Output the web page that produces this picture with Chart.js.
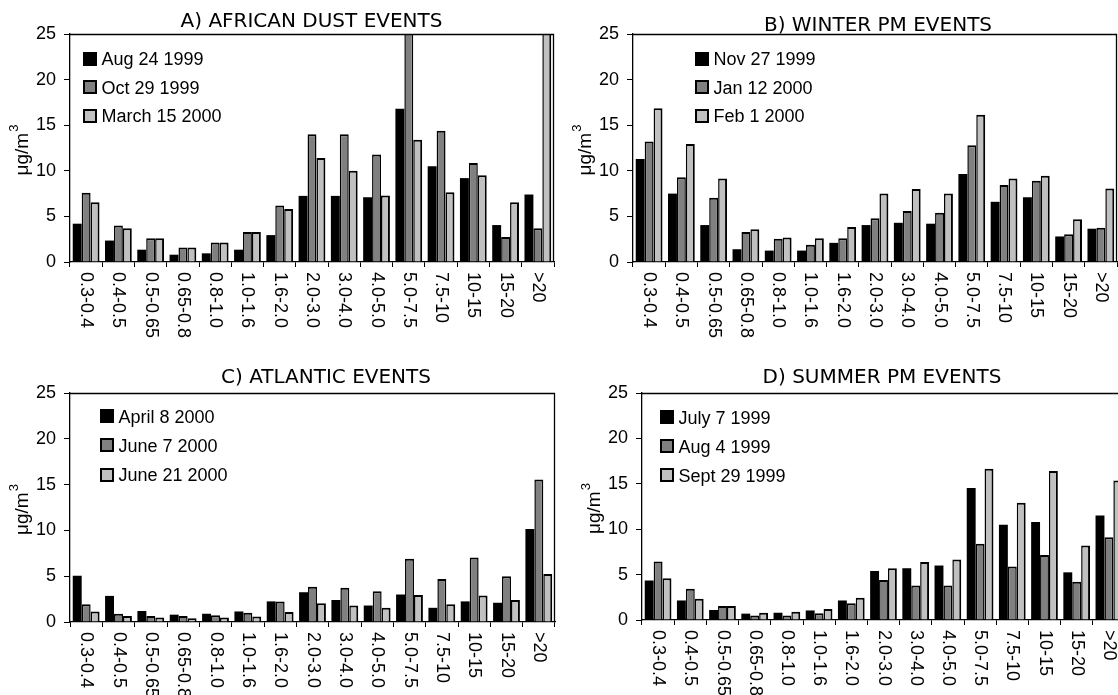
<!DOCTYPE html>
<html><head><meta charset="utf-8">
<script src="https://cdn.jsdelivr.net/npm/chart.js@4/dist/chart.umd.min.js"></script>
<style>
html,body{margin:0;padding:0;background:#fff;overflow:hidden;width:1118px;height:695px;position:relative;}
canvas{position:absolute;}
</style></head><body>
<canvas id="cA" width="560" height="345" style="left:0;top:0"></canvas>
<canvas id="cB" width="580" height="345" style="left:560px;top:0"></canvas>
<canvas id="cC" width="560" height="350" style="left:0;top:345px"></canvas>
<canvas id="cD" width="580" height="350" style="left:560px;top:345px"></canvas>
<script>
// ---- data ----
const categories = ['0.3-0.4','0.4-0.5','0.5-0.65','0.65-0.8','0.8-1.0','1.0-1.6','1.6-2.0','2.0-3.0','3.0-4.0','4.0-5.0','5.0-7.5','7.5-10','10-15','15-20','>20'];
const yTicks = [0, 5, 10, 15, 20, 25];
const panelTitles = ['A) AFRICAN DUST EVENTS', 'B) WINTER PM EVENTS', 'C) ATLANTIC EVENTS', 'D) SUMMER PM EVENTS'];
const yTitle = 'μg/m';
const yTitleSup = '3';

const dustDates = ['Aug 24 1999', 'Oct 29 1999', 'March 15 2000'];
const dustAug24_1999 = [4.2, 2.35, 1.35, 0.8, 0.95, 1.35, 2.95, 7.25, 7.25, 7.1, 16.8, 10.5, 9.2, 4.05, 7.4];
const dustOct29_1999 = [7.6, 4.0, 2.6, 1.6, 2.15, 3.3, 6.2, 14.0, 14.0, 11.8, 26, 14.4, 10.85, 2.75, 3.7];
const dustMar15_2000 = [6.55, 3.7, 2.6, 1.6, 2.15, 3.3, 5.8, 11.4, 10.0, 7.3, 13.4, 7.65, 9.5, 6.55, 26];

const winterDates = ['Nov 27 1999', 'Jan 12 2000', 'Feb 1 2000'];
const winterNov27_1999 = [11.3, 7.5, 4.05, 1.4, 1.25, 1.25, 2.1, 4.05, 4.3, 4.2, 9.65, 6.6, 7.1, 2.8, 3.65];
const winterJan12_2000 = [13.2, 9.3, 7.05, 3.3, 2.55, 1.9, 2.6, 4.8, 5.6, 5.4, 12.8, 8.45, 8.9, 3.05, 3.75];
const winterFeb1_2000 = [16.85, 12.95, 9.15, 3.6, 2.7, 2.6, 3.85, 7.5, 8.0, 7.5, 16.15, 9.15, 9.45, 4.7, 8.05];

const atlanticDates = ['April 8 2000', 'June 7 2000', 'June 21 2000'];
const atlApr8_2000 = [5.05, 2.85, 1.2, 0.8, 0.9, 1.15, 2.25, 3.25, 2.4, 1.8, 3.0, 1.55, 2.25, 2.1, 10.15];
const atlJun7_2000 = [1.95, 0.9, 0.65, 0.65, 0.75, 1.0, 2.25, 3.85, 3.75, 3.35, 6.9, 4.7, 7.05, 5.0, 15.55];
const atlJun21_2000 = [1.15, 0.65, 0.5, 0.4, 0.5, 0.6, 1.1, 2.05, 1.8, 1.55, 2.95, 1.95, 2.9, 2.4, 5.25];

const summerDates = ['July 7 1999', 'Aug 4 1999', 'Sept 29 1999'];
const sumJul7_1999 = [4.35, 2.15, 1.1, 0.7, 0.8, 1.05, 2.15, 5.4, 5.7, 6.0, 14.55, 10.5, 10.8, 5.25, 11.5];
const sumAug4_1999 = [6.45, 3.45, 1.55, 0.5, 0.5, 0.75, 1.85, 4.4, 3.8, 3.8, 8.4, 5.9, 7.15, 4.2, 9.1];
const sumSep29_1999 = [4.6, 2.35, 1.55, 0.8, 0.9, 1.2, 2.45, 5.7, 6.4, 6.65, 16.65, 12.9, 16.4, 8.2, 15.35];

// ---- styling ----
const FONT = '"Liberation Sans", Arial, sans-serif';
const TITLE_FONT = '"DejaVu Sans", Verdana, sans-serif';
const fills = ['#000000', '#808080', '#c0c0c0'];
const borders = [0, {top: 2, left: 1.5, right: 1.5, bottom: 0}, {top: 2, left: 1.5, right: 2, bottom: 0}];

const panels = [
  {id: 'cA', title: panelTitles[0], names: dustDates, series: [dustAug24_1999, dustOct29_1999, dustMar15_2000],
   area: {left: 70, right: 554, top: 34, bottom: 262}, titlePos: {x: 311.5, y: 26.7}, legend: {dx: 13, dy: 24.5, gap: 28.7}},
  {id: 'cB', title: panelTitles[1], names: winterDates, series: [winterNov27_1999, winterJan12_2000, winterFeb1_2000],
   area: {left: 73, right: 557, top: 34, bottom: 262}, titlePos: {x: 318, y: 30.5}, legend: {dx: 62, dy: 24.5, gap: 28.7}},
  {id: 'cC', title: panelTitles[2], names: atlanticDates, series: [atlApr8_2000, atlJun7_2000, atlJun21_2000],
   area: {left: 70, right: 555, top: 48, bottom: 277}, titlePos: {x: 326, y: 38.3}, legend: {dx: 30, dy: 23, gap: 29.3}},
  {id: 'cD', title: panelTitles[3], names: summerDates, series: [sumJul7_1999, sumAug4_1999, sumSep29_1999],
   area: {left: 82, right: 565, top: 48, bottom: 275}, titlePos: {x: 322, y: 38.3}, legend: {dx: 18, dy: 24, gap: 29}}
];

function makePanel(p) {
  const canvas = document.getElementById(p.id);
  const W = canvas.width, H = canvas.height;
  const decor = {
    id: 'decor',
    afterDraw(chart) {
      const ctx = chart.ctx, ca = chart.chartArea, xs = chart.scales.x;
      ctx.save();
      // frame top/right
      ctx.strokeStyle = '#000'; ctx.lineWidth = 1.3;
      ctx.beginPath();
      ctx.moveTo(ca.left, ca.top + 0.5); ctx.lineTo(ca.right - 0.5, ca.top + 0.5); ctx.lineTo(ca.right - 0.5, ca.bottom);
      ctx.stroke();
      // title
      ctx.fillStyle = '#000';
      ctx.font = '20px ' + TITLE_FONT;
      ctx.textAlign = 'center'; ctx.textBaseline = 'alphabetic';
      ctx.fillText(p.title, p.titlePos.x, p.titlePos.y);
      // x labels rotated clockwise
      ctx.font = '18px ' + FONT;
      chart.data.labels.forEach((lab, i) => {
        const x = xs.getPixelForValue(i);
        ctx.save();
        ctx.translate(x, ca.bottom + 10);
        ctx.rotate(Math.PI / 2);
        ctx.textAlign = 'left'; ctx.textBaseline = 'middle';
        ctx.fillText(lab, 0, 0);
        ctx.restore();
      });
      // y title
      ctx.save();
      ctx.translate(ca.left - 47, (ca.top + ca.bottom) / 2 + 2);
      ctx.rotate(-Math.PI / 2);
      ctx.font = '19px ' + FONT;
      const w1 = ctx.measureText(yTitle).width;
      ctx.font = '13px ' + FONT;
      const w2 = ctx.measureText(yTitleSup).width;
      const x0 = -(w1 + w2 + 1) / 2;
      ctx.textAlign = 'left'; ctx.textBaseline = 'middle';
      ctx.font = '19px ' + FONT;
      ctx.fillText(yTitle, x0, 0);
      ctx.font = '13px ' + FONT;
      ctx.fillText(yTitleSup, x0 + w1 + 1, -9);
      ctx.restore();
      // legend
      chart.data.datasets.forEach((ds, i) => {
        const bx = ca.left + p.legend.dx;
        const cy = ca.top + p.legend.dy + i * p.legend.gap;
        ctx.fillStyle = '#000';
        ctx.fillRect(bx, Math.round(cy - 7), 14, 14);
        if (i > 0) { ctx.fillStyle = ds.backgroundColor; ctx.fillRect(bx + 2, Math.round(cy - 7) + 2, 10, 10); }
        ctx.fillStyle = '#000';
        ctx.font = '18px ' + FONT;
        ctx.textAlign = 'left'; ctx.textBaseline = 'alphabetic';
        ctx.fillText(ds.label, bx + 18.5, cy + 6.5);
      });
      ctx.restore();
    }
  };
  return new Chart(canvas, {
    type: 'bar',
    data: {
      labels: categories,
      datasets: p.names.map((n, i) => ({
        label: n, data: p.series[i], backgroundColor: fills[i], borderColor: '#000',
        borderWidth: borders[i], borderSkipped: 'bottom', categoryPercentage: 0.83, barPercentage: 1, clip: 0
      }))
    },
    options: {
      responsive: false, animation: false, devicePixelRatio: 1,
      layout: {padding: {left: 0, top: p.area.top, right: W - p.area.right, bottom: 0}},
      plugins: {legend: {display: false}, title: {display: false}, tooltip: {enabled: false}},
      scales: {
        x: {
          offset: true,
          grid: {display: true, drawOnChartArea: false, drawTicks: true, tickLength: 5, color: '#000', offset: true},
          border: {display: true, color: '#000', width: 1.3},
          ticks: {display: false},
          afterFit(s) { s.height = H - p.area.bottom; }
        },
        y: {
          min: 0, max: 25,
          afterBuildTicks(s) { s.ticks = yTicks.map(v => ({value: v})); },
          ticks: {color: '#000', font: {family: FONT, size: 18}, padding: 8},
          grid: {drawOnChartArea: false, drawTicks: true, tickLength: 6, color: '#000'},
          border: {display: true, color: '#000', width: 1.3},
          afterFit(s) { s.width = p.area.left; }
        }
      }
    },
    plugins: [decor]
  });
}
panels.forEach(makePanel);
</script>
</body></html>
